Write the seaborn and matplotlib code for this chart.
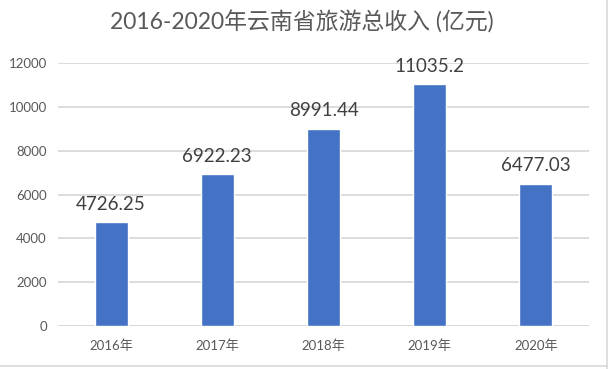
import matplotlib
matplotlib.use('Agg')
import matplotlib.pyplot as plt
import seaborn as sns
import pandas as pd
from matplotlib.lines import Line2D

years = ['2016年', '2017年', '2018年', '2019年', '2020年']
income = [4726.25, 6922.23, 8991.44, 11035.2, 6477.03]
labels = ['4726.25', '6922.23', '8991.44', '11035.2', '6477.03']
yticks = [0, 2000, 4000, 6000, 8000, 10000, 12000]

sns.set_theme(style='white')
plt.rcParams['font.family'] = ['Lato', 'Noto Sans CJK SC', 'DejaVu Sans']

df = pd.DataFrame({'year': years, 'income': income})

fig = plt.figure(figsize=(6.08, 3.69), dpi=100)
ax = fig.add_axes([0.0954, 0.1165, 0.8734, 0.7125])

sns.barplot(data=df, x='year', y='income', color='#4472C4', width=0.31,
            saturation=1, ax=ax, zorder=3)

ax.set_ylim(0, 12000)
ax.set_yticks(yticks)
ax.set_yticklabels([str(t) for t in yticks])
ax.yaxis.grid(True, color='#D9D9D9', linewidth=1.3, zorder=0)
ax.set_axisbelow(True)
for s in ax.spines.values():
    s.set_visible(False)
ax.axhline(0, color='#D9D9D9', linewidth=1.3, zorder=2)
ax.tick_params(axis='both', length=0, labelsize=9.5, colors='#595959')
ax.tick_params(axis='x', pad=10)
ax.tick_params(axis='y', pad=8)
ax.set_xlabel('')
ax.set_ylabel('')
ax.set_xlim(-0.5, 4.5)

for i, (v, lab) in enumerate(zip(income, labels)):
    ax.annotate(lab, (i, v), xytext=(0, 7), textcoords='offset points',
                ha='center', va='bottom', fontsize=13.5, color='#404040')

fig.text(0.497, 0.94, '2016-2020年云南省旅游总收入 (亿元)', ha='center', va='center',
         fontsize=16.5, color='#595959')

# chart frame edges
fig.add_artist(Line2D([0.998, 0.998], [0.0, 1.0], transform=fig.transFigure,
                      color='#D9D9D9', linewidth=1.2))
fig.add_artist(Line2D([0.0, 1.0], [0.008, 0.008], transform=fig.transFigure,
                      color='#D9D9D9', linewidth=1.2))

fig.savefig('out.png', dpi=100)
